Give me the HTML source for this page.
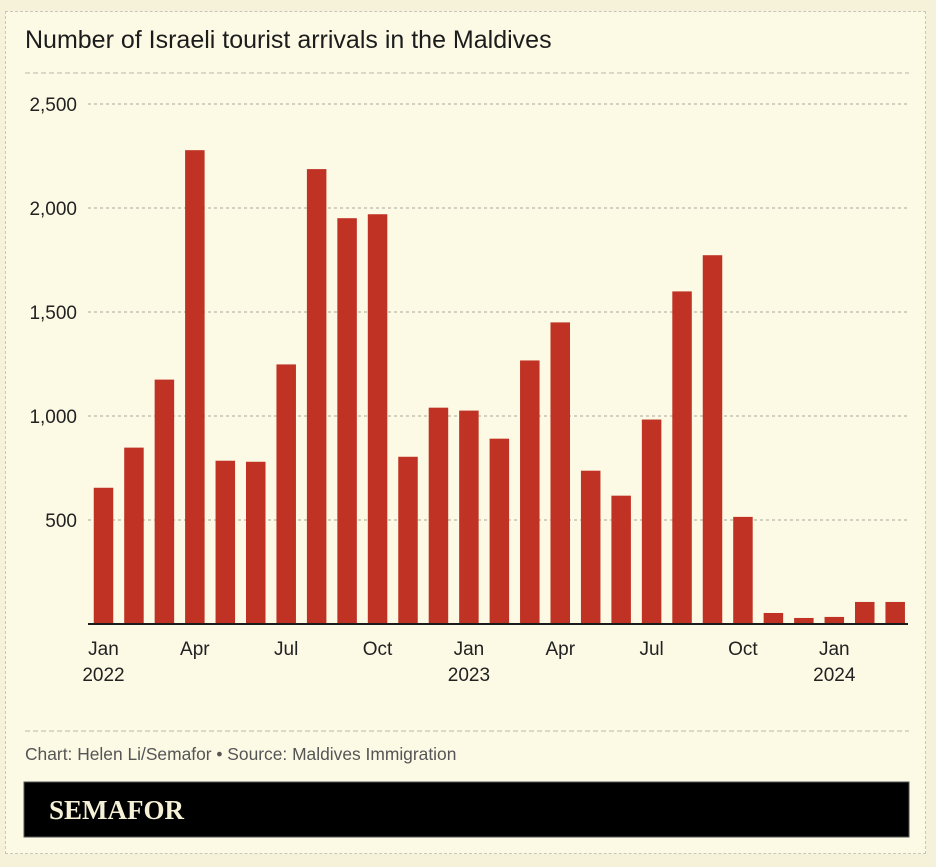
<!DOCTYPE html>
<html><head><meta charset="utf-8">
<style>
html,body{margin:0;padding:0;}
body{width:936px;height:867px;background:#f6f2da;position:relative;overflow:hidden;font-family:"Liberation Sans",sans-serif;}
#card{position:absolute;left:5px;top:11px;width:921px;height:843px;background:#fcf9e5;border:1.5px dashed #c8c6bb;box-sizing:border-box;}
</style></head>
<body>
<div id="card"></div>
<svg id="chart" width="936" height="867" style="position:absolute;left:0;top:0">
<text x="25" y="48" font-size="25" fill="#1c1c1c" font-family="Liberation Sans, sans-serif">Number of Israeli tourist arrivals in the Maldives</text>
<line x1="25" y1="73" x2="909" y2="73" stroke="#b8b6ab" stroke-dasharray="5,3"/>
<g id="grid"></g>
<g id="bars"></g>
<g id="xlabels"></g>
<line x1="88" y1="624" x2="908" y2="624" stroke="#1c1c1c" stroke-width="2"/>
<line x1="25" y1="731" x2="909" y2="731" stroke="#b8b6ab" stroke-dasharray="5,3"/>
<text x="25" y="760" font-size="17.4" fill="#555">Chart: Helen Li/Semafor • Source: Maldives Immigration</text>
<rect x="24" y="782" width="885" height="55" fill="#000" stroke="#555"/>
<text x="49" y="819" font-size="27" font-weight="bold" fill="#f6f0d6" font-family="Liberation Serif, serif">SEMAFOR</text>
</svg>
<script>
const months=["Jan 2022","Feb 2022","Mar 2022","Apr 2022","May 2022","Jun 2022","Jul 2022","Aug 2022","Sep 2022","Oct 2022","Nov 2022","Dec 2022","Jan 2023","Feb 2023","Mar 2023","Apr 2023","May 2023","Jun 2023","Jul 2023","Aug 2023","Sep 2023","Oct 2023","Nov 2023","Dec 2023","Jan 2024","Feb 2024","Mar 2024"];
const arrivals=[655,848,1175,2278,785,780,1248,2187,1951,1970,804,1040,1026,891,1267,1450,737,617,983,1599,1773,515,53,29,34,106,106];
const yTicks=[500,1000,1500,2000,2500];
const yTickLabels=["500","1,000","1,500","2,000","2,500"];
const xLabelIdx=[0,3,6,9,12,15,18,21,24];
const xLabelTop=["Jan","Apr","Jul","Oct","Jan","Apr","Jul","Oct","Jan"];
const xLabelBottom=["2022","","","","2023","","","","2024"];

const NS="http://www.w3.org/2000/svg";
const y0=624, pxPer=520/2500;
const yScale=v=>y0-v*pxPer;
const x0=103.5, step=30.45, bw=19.5;
const xScale=i=>x0+i*step;
function mk(t,a){const e=document.createElementNS(NS,t);for(const k in a)e.setAttribute(k,a[k]);return e;}

const grid=document.getElementById('grid');
yTicks.forEach((v,i)=>{
  const l=mk('line',{x1:88,x2:908,y1:yScale(v),y2:yScale(v),stroke:'#a9a79d','stroke-dasharray':'3,3'});
  
  
  grid.appendChild(l);
  const t=mk('text',{x:77,y:yScale(v)+7,'text-anchor':'end','font-size':19,fill:'#222'});
  t.textContent=yTickLabels[i];
  
  
  grid.appendChild(t);
});
const bars=document.getElementById('bars');
arrivals.forEach((v,i)=>{
  const r=mk('rect',{x:xScale(i)-bw/2,y:yScale(v),width:bw,height:y0-yScale(v),fill:'#bf3224'});
  
  
  bars.appendChild(r);
});
const xl=document.getElementById('xlabels');
xLabelIdx.forEach((idx,k)=>{
  const t=mk('text',{x:xScale(idx),y:655,'text-anchor':'middle','font-size':19,fill:'#222'});
  t.textContent=xLabelTop[k];
  
  
  xl.appendChild(t);
  if(xLabelBottom[k]){
    const t2=mk('text',{x:xScale(idx),y:681,'text-anchor':'middle','font-size':19,fill:'#222'});
    t2.textContent=xLabelBottom[k];
    
    
    xl.appendChild(t2);
  }
});
</script>
</body></html>
